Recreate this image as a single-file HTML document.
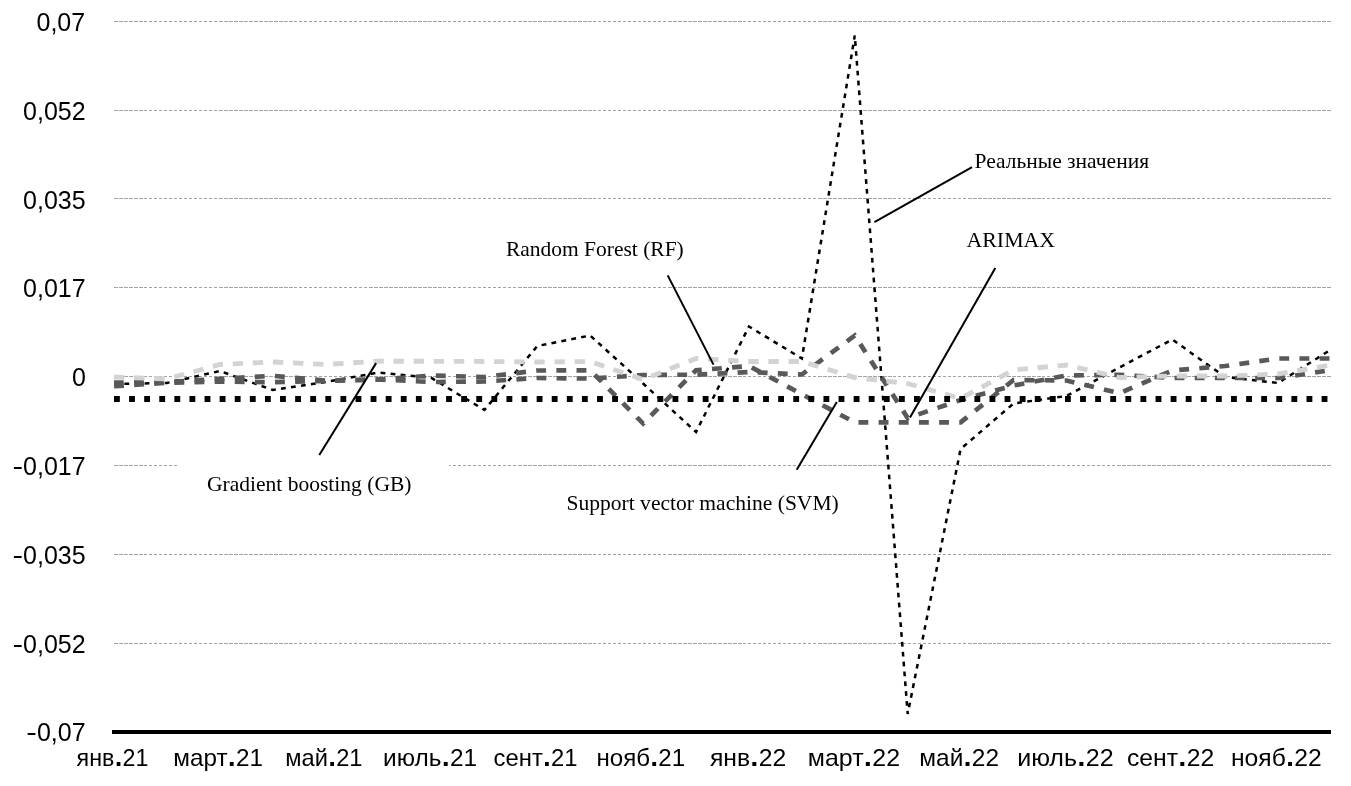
<!DOCTYPE html>
<html><head><meta charset="utf-8"><title>chart</title>
<style>
html,body{margin:0;padding:0;background:#fff;}
body{width:1351px;height:786px;overflow:hidden;}
svg{display:block;filter:grayscale(1);}
.ax{font-family:"Liberation Sans",Arial,sans-serif;font-size:25px;fill:#000;}
.xl{font-size:24px;}
.g{stroke:#a3a3a3;stroke-width:1;stroke-dasharray:4 1 4 1 4 1 4 1 4 1 4 1 3 2 3 2 3 2 3 2 3 2 3 2 3 2 3 2 3 2 3 2 3 2 3 2 3 2 3 2 3 2 4 1 4 1 4 1 4 1 4 1 4 1 4 1 4 1 4 1 4 1 4 1 4 1 4 1 4 1 4 1 3 2 3 2 3 2 3 2 3 2 3 2 3 2 3 2 3 2 3 2 3 2 3 2 3 2 3 2 3 2 4 1 4 1 4 1 4 1 4 1 4 1 4 1 3 1 4 1 4 1 4 1 4 1 4 1 4 1 4 1 3 2 3 2 3 2 3 2 3 2 3 2 3 2 3 2 3 2 3 2 3 2 3 2 3 2 3 2 3 2 4 1 4 1 4 1 4 1 4 1 4 1 4 1 4 1 4 1 4 1 4 1 4 1 4 1 4 1 4 1 3 2 3 2 3 2 3 2 3 2 3 2 3 2 3 2 3 2 3 2 3 2 3 2 3 2 3 2 3 2 4 1 4 1 4 1 4 1 4 1 4 1 4 1 4 1 4 1 4 1 4 1 4 1 4 1 4 1 4 1 3 2 3 2 3 2 3 2 3 2 3 2 3 2 3 2 3 2 3 2 3 2 3 2 3 2 3 2 3 2 4 1 4 1 4 1 4 1 4 1 4 1 4 1 4 1 4 1 4 1 4 1 4 1 4 1 4 1 4 1 3 2 3 2 3 2 3 2 3 2 3 2 3 2 3 2 3 2 3 2 3 2 3 2 3 2 3 2 3 2 4 1 4 1 4 1 4 1 4 1 3 1 4 1 4 1 4 1 4 1 4 1 4 1 4 1 4 1 4 1 3 2 3 2 3 2 3 2 3 2 3 2 3 2 3 2 3 2 3 2 3 2 3 2 3 2 3 2 3 2 4 1 4 1 4 1 4 1 4 1 4 1 4 1 4 1 4 1 4 1 4 1 4 1 4 1 4 1 4 1 3 2 3 2 3 2 3 2 3 2 3 2 3 2 3 2 3 2 3 2 3 2 3 2 3 2 3 2 3 2 4 1 4 1 4 1 4 1 4 1 4 1 4 1 4 1 4 1 4 1 4 1 4 1 4 1;}
.dot{font-family:"DejaVu Sans",sans-serif;font-weight:bold;font-size:22px;}
.lb{font-family:"Liberation Serif","Times New Roman",serif;font-size:21.5px;fill:#000;}
</style></head><body>
<svg width="1351" height="786" viewBox="0 0 1351 786">
<rect width="1351" height="786" fill="#fff"/>
<line class="g" x1="114" y1="21.5" x2="1331" y2="21.5"/>
<line class="g" x1="114" y1="110.5" x2="1331" y2="110.5"/>
<line class="g" x1="114" y1="198.5" x2="1331" y2="198.5"/>
<line class="g" x1="114" y1="287.5" x2="1331" y2="287.5"/>
<line class="g" x1="114" y1="376.5" x2="1331" y2="376.5"/>
<line class="g" x1="114" y1="465.5" x2="1331" y2="465.5"/>
<line class="g" x1="114" y1="554.5" x2="1331" y2="554.5"/>
<line class="g" x1="114" y1="643.5" x2="1331" y2="643.5"/>
<g transform="matrix(1.007 0 0 0.985 -0.7980 5.6475)" fill="none">
<polyline points="114.00,384.11 166.55,383.10 219.09,370.92 271.64,390.21 324.18,382.08 376.73,372.44 429.27,378.02 481.82,410.51 534.36,345.54 586.91,334.88 639.45,383.61 692.00,432.85 744.54,325.74 797.09,358.23 849.63,30.31 902.18,719.14 954.72,450.10 1007.27,403.91 1059.81,396.30 1112.36,367.36 1164.90,338.94 1217.45,377.01 1269.99,383.10 1322.54,349.09" stroke="#000" stroke-width="2.5" stroke-dasharray="4.8 5.2275" stroke-dashoffset="-0.28"/>
<polyline points="114.00,382.69 166.55,382.08 219.09,378.84 271.64,375.79 324.18,380.56 376.73,379.55 429.27,375.48 481.82,377.01 534.36,370.41 586.91,370.21 639.45,424.22 692.00,370.21 744.54,365.84 797.09,394.47 849.63,423.10 902.18,423.10 954.72,423.10 1007.27,380.05 1059.81,380.56 1112.36,393.45 1164.90,370.41 1217.45,365.84 1269.99,358.23 1322.54,358.23" stroke="#595959" stroke-width="4.7" stroke-dasharray="9.8 10.2205" stroke-dashoffset="0.15"/>
<polyline points="114.00,386.35 166.55,382.90 219.09,381.58 271.64,382.29 324.18,381.07 376.73,379.55 429.27,382.08 481.82,381.58 534.36,378.02 586.91,378.63 639.45,374.98 692.00,374.67 744.54,371.93 797.09,374.47 849.63,334.88 902.18,418.63 954.72,400.36 1007.27,385.64 1059.81,375.48 1112.36,374.77 1164.90,378.02 1217.45,378.02 1269.99,378.02 1322.54,369.90" stroke="#595959" stroke-width="4.7" stroke-dasharray="9.8 10.1915" stroke-dashoffset="-0.07"/>
<polyline points="114.00,377.01 166.55,379.04 219.09,364.32 271.64,361.78 324.18,364.32 376.73,360.97 429.27,361.07 481.82,361.27 534.36,361.78 586.91,361.27 639.45,379.55 692.00,358.23 744.54,361.27 797.09,361.27 849.63,377.52 902.18,383.61 954.72,398.84 1007.27,369.90 1059.81,364.82 1112.36,377.52 1164.90,375.99 1217.45,375.99 1269.99,373.96 1322.54,364.82" stroke="#d3d3d3" stroke-width="4.9" stroke-dasharray="10.3 9.684" stroke-dashoffset="-0.05"/>
<line x1="114" y1="399.34" x2="1322.54" y2="399.34" stroke="#000" stroke-width="6" stroke-dasharray="5.8 9.19"/>
</g>
<rect x="112" y="730" width="1219" height="4" fill="#000"/>
<line x1="874.4" y1="222.2" x2="972.1" y2="167.1" stroke="#000" stroke-width="2"/>
<line x1="995.3" y1="268.1" x2="910" y2="417.5" stroke="#000" stroke-width="2"/>
<line x1="667.7" y1="275.4" x2="713.5" y2="364.6" stroke="#000" stroke-width="2"/>
<line x1="319.3" y1="455" x2="376.1" y2="363.1" stroke="#000" stroke-width="2"/>
<line x1="796.7" y1="469.8" x2="836.8" y2="402" stroke="#000" stroke-width="2"/>
<rect x="178" y="456" width="271" height="56" fill="#fff"/>
<text id="y0" x="85.20" y="31.00" text-anchor="end" class="ax">0,07</text>
<text id="y1" x="85.60" y="119.80" text-anchor="end" class="ax">0,052</text>
<text id="y2" x="85.60" y="208.60" text-anchor="end" class="ax">0,035</text>
<text id="y3" x="85.60" y="297.40" text-anchor="end" class="ax">0,017</text>
<text id="y4" x="86.00" y="386.20" text-anchor="end" class="ax">0</text>
<text id="y5" x="85.60" y="475.00" text-anchor="end" class="ax"><tspan textLength="10.6" lengthAdjust="spacingAndGlyphs">-</tspan>0,017</text>
<text id="y6" x="85.60" y="563.80" text-anchor="end" class="ax"><tspan textLength="10.6" lengthAdjust="spacingAndGlyphs">-</tspan>0,035</text>
<text id="y7" x="85.60" y="652.60" text-anchor="end" class="ax"><tspan textLength="10.6" lengthAdjust="spacingAndGlyphs">-</tspan>0,052</text>
<text id="y8" x="85.60" y="741.40" text-anchor="end" class="ax"><tspan textLength="10.6" lengthAdjust="spacingAndGlyphs">-</tspan>0,07</text>
<text id="x0" x="112.50" y="766.00" text-anchor="middle" class="ax xl" textLength="71.77" lengthAdjust="spacingAndGlyphs">янв<tspan class="dot">.</tspan>21</text>
<text id="x1" x="218.20" y="766.00" text-anchor="middle" class="ax xl" textLength="89.71" lengthAdjust="spacingAndGlyphs">март<tspan class="dot">.</tspan>21</text>
<text id="x2" x="323.90" y="766.00" text-anchor="middle" class="ax xl" textLength="77.19" lengthAdjust="spacingAndGlyphs">май<tspan class="dot">.</tspan>21</text>
<text id="x3" x="430.10" y="766.00" text-anchor="middle" class="ax xl" textLength="93.96" lengthAdjust="spacingAndGlyphs">июль<tspan class="dot">.</tspan>21</text>
<text id="x4" x="535.60" y="766.00" text-anchor="middle" class="ax xl" textLength="83.98" lengthAdjust="spacingAndGlyphs">сент<tspan class="dot">.</tspan>21</text>
<text id="x5" x="640.80" y="766.00" text-anchor="middle" class="ax xl" textLength="88.75" lengthAdjust="spacingAndGlyphs">нояб<tspan class="dot">.</tspan>21</text>
<text id="x6" x="748.10" y="766.00" text-anchor="middle" class="ax xl" textLength="76.27" lengthAdjust="spacingAndGlyphs">янв<tspan class="dot">.</tspan>22</text>
<text id="x7" x="853.90" y="766.00" text-anchor="middle" class="ax xl" textLength="92.33" lengthAdjust="spacingAndGlyphs">март<tspan class="dot">.</tspan>22</text>
<text id="x8" x="959.20" y="766.00" text-anchor="middle" class="ax xl" textLength="79.72" lengthAdjust="spacingAndGlyphs">май<tspan class="dot">.</tspan>22</text>
<text id="x9" x="1065.40" y="766.00" text-anchor="middle" class="ax xl" textLength="96.49" lengthAdjust="spacingAndGlyphs">июль<tspan class="dot">.</tspan>22</text>
<text id="x10" x="1170.60" y="766.00" text-anchor="middle" class="ax xl" textLength="87.26" lengthAdjust="spacingAndGlyphs">сент<tspan class="dot">.</tspan>22</text>
<text id="x11" x="1276.40" y="766.00" text-anchor="middle" class="ax xl" textLength="90.84" lengthAdjust="spacingAndGlyphs">нояб<tspan class="dot">.</tspan>22</text>
<text id="l0" x="974.50" y="167.50" text-anchor="start" class="lb" textLength="174.56" lengthAdjust="spacingAndGlyphs">Реальные значения</text>
<text id="l1" x="966.50" y="246.80" text-anchor="start" class="lb" textLength="88.65" lengthAdjust="spacingAndGlyphs">ARIMAX</text>
<text id="l2" x="506.00" y="255.80" text-anchor="start" class="lb" textLength="177.74" lengthAdjust="spacingAndGlyphs">Random Forest (RF)</text>
<text id="l3" x="207.00" y="491.10" text-anchor="start" class="lb" textLength="204.47" lengthAdjust="spacingAndGlyphs">Gradient boosting (GB)</text>
<text id="l4" x="566.50" y="510.00" text-anchor="start" class="lb" textLength="272.27" lengthAdjust="spacingAndGlyphs">Support vector machine (SVM)</text>
</svg>
</body></html>
